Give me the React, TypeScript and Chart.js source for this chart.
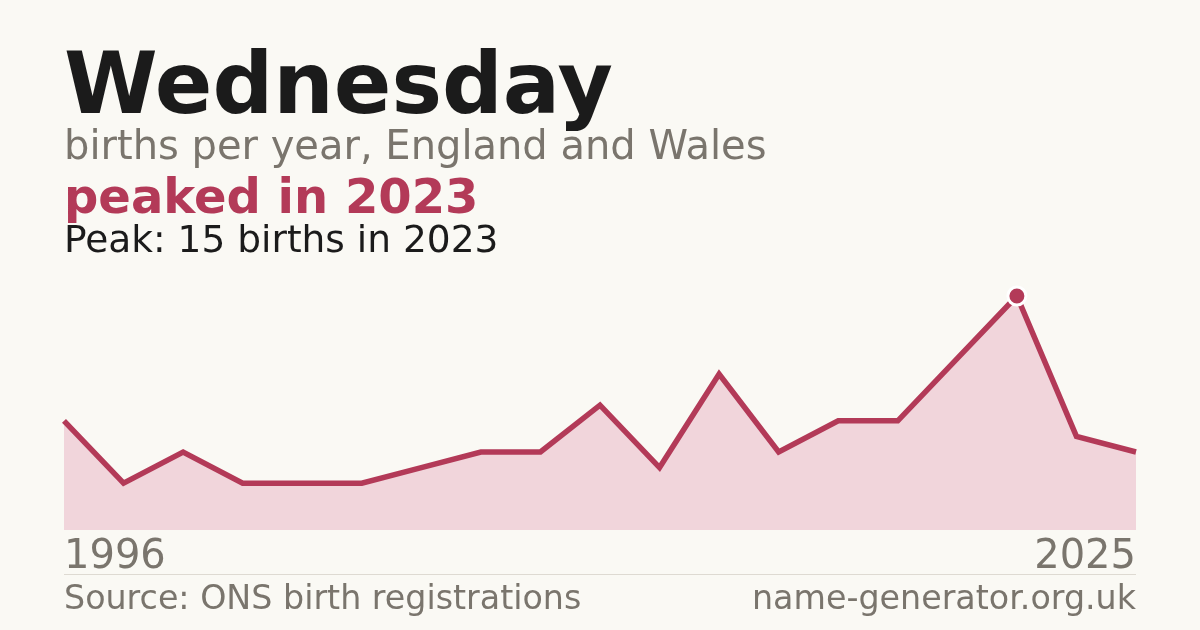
import React, { useEffect, useRef } from "react";
import { Chart, registerables } from "chart.js";

Chart.register(...registerables);

const years = [
  "1996", "1997", "1999", "2001", "2003", "2005", "2008", "2010", "2011", "2013",
  "2014", "2015", "2016", "2017", "2019", "2021", "2023", "2024", "2025",
];
const births = [7, 3, 5, 3, 3, 3, 4, 5, 5, 8, 4, 10, 5, 7, 7, 11, 15, 6, 5];

const nameText = "Wednesday";
const subtitleText = "births per year, England and Wales";
const peakYear = years[births.indexOf(Math.max(...births))];
const peakValue = Math.max(...births);
const sourceText = "Source: ONS birth registrations";
const siteText = "name-generator.org.uk";

const BG = "#faf9f4";
const CRIMSON = "#b33a58";
const FILL = "#f1d5db";
const GRAY = "#7a756d";
const DARK = "#1b1b1b";
const FONT = "'DejaVu Sans', sans-serif";

function Txt(props: {
  text: string;
  size: number;
  baseline: number;
  color: string;
  bold?: boolean;
  left?: number;
  right?: number;
}) {
  const { text, size, baseline, color, bold, left, right } = props;
  const style: React.CSSProperties = {
    position: "absolute",
    top: baseline - 0.846 * size,
    fontFamily: FONT,
    fontSize: size,
    lineHeight: size + "px",
    fontWeight: bold ? 700 : 400,
    color,
    whiteSpace: "nowrap",
  };
  if (left !== undefined) style.left = left;
  if (right !== undefined) style.right = right;
  return <div style={style}>{text}</div>;
}

export default function App() {
  const ref = useRef<HTMLCanvasElement | null>(null);

  useEffect(() => {
    if (!ref.current) return;
    const peakIdx = births.indexOf(Math.max(...births));
    const chart = new Chart(ref.current, {
      type: "line",
      data: {
        labels: years,
        datasets: [
          {
            data: births,
            borderColor: CRIMSON,
            backgroundColor: FILL,
            borderWidth: 5.5,
            fill: "origin",
            tension: 0,
            clip: false as any,
            pointRadius: (c: any) => (c.dataIndex === peakIdx ? 9 : 0),
            pointHoverRadius: 0,
            pointBackgroundColor: CRIMSON,
            pointBorderColor: "#ffffff",
            pointBorderWidth: 3,
          },
        ],
      },
      options: {
        animation: false,
        responsive: false,
        maintainAspectRatio: false,
        devicePixelRatio: 1,
        layout: { padding: { left: 64, right: 64, top: 296, bottom: 100 } },
        plugins: { legend: { display: false }, tooltip: { enabled: false } },
        scales: {
          x: { display: false, offset: false },
          y: { display: false, min: 0, max: 15 },
        },
      },
    });
    return () => chart.destroy();
  }, []);

  return (
    <div
      style={{
        position: "absolute",
        left: 0,
        top: 0,
        width: 1200,
        height: 630,
        background: BG,
        overflow: "hidden",
      }}
    >
      <canvas
        ref={ref}
        width={1200}
        height={630}
        style={{ position: "absolute", left: 0, top: 0, width: 1200, height: 630 }}
      />
      <Txt text={nameText} size={85} baseline={113} color={DARK} bold left={64} />
      <Txt text={subtitleText} size={40} baseline={159} color={GRAY} left={64} />
      <Txt text={`peaked in ${peakYear}`} size={48} baseline={213} color={CRIMSON} bold left={64} />
      <Txt text={`Peak: ${peakValue} births in ${peakYear}`} size={37.5} baseline={253} color={DARK} left={64} />
      <Txt text={years[0]} size={40} baseline={568} color={GRAY} left={64} />
      <Txt text={years[years.length - 1]} size={40} baseline={568} color={GRAY} right={64} />
      <div
        style={{
          position: "absolute",
          left: 64,
          top: 574,
          width: 1072,
          height: 1,
          background: "#dedad2",
        }}
      />
      <Txt text={sourceText} size={33.3} baseline={609} color={GRAY} left={64} />
      <Txt text={siteText} size={33.3} baseline={609} color={GRAY} right={64} />
    </div>
  );
}
